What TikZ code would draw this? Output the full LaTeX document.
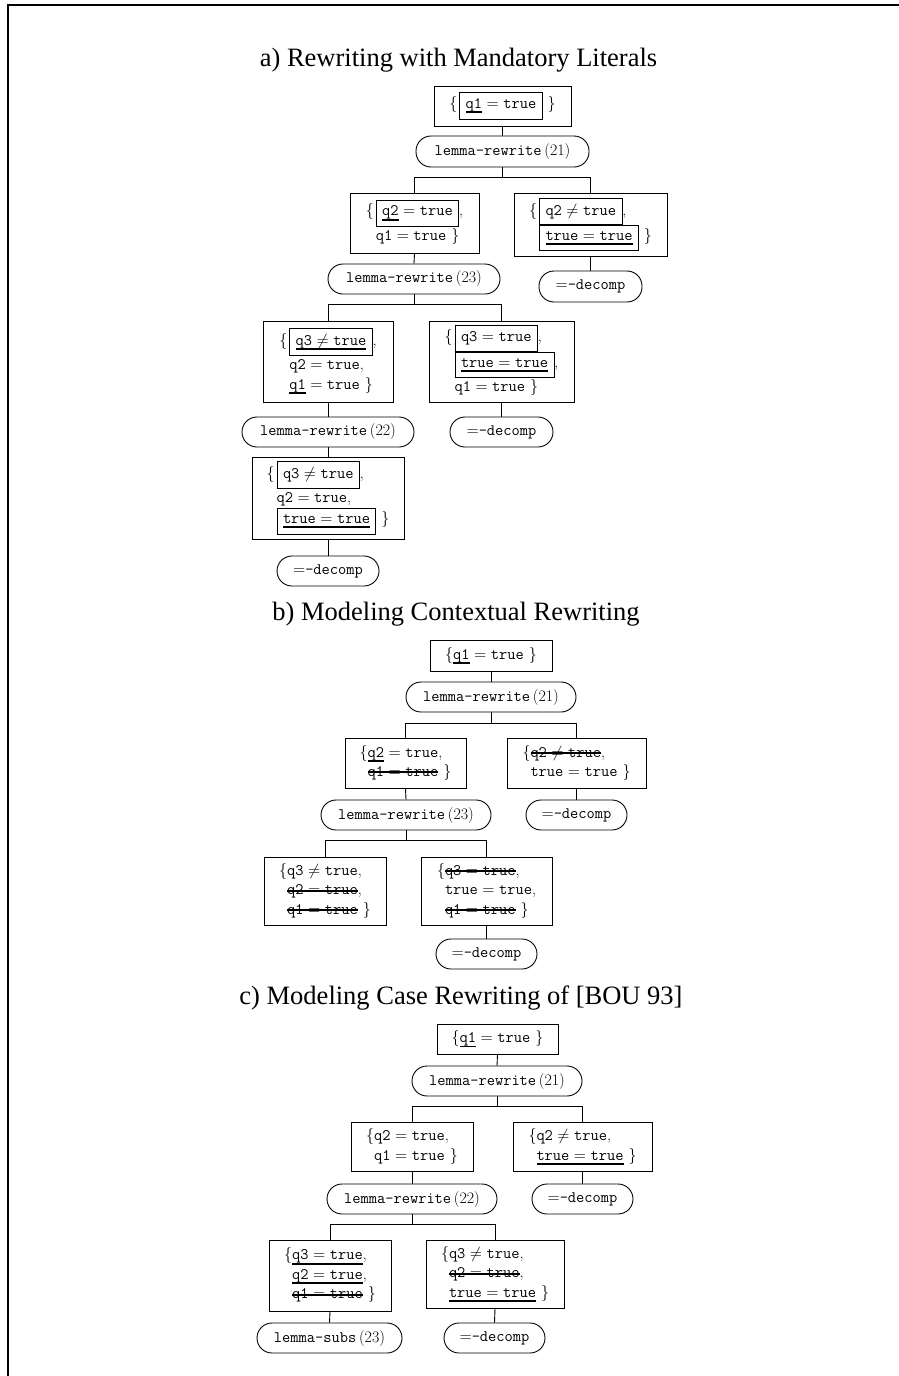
\RequirePackage{fix-cm}
\documentclass[tikz,border=0pt]{standalone}
\usepackage{fontspec}
\newfontfamily\titlefont{Liberation Serif}
\newsavebox\litbox
\newcommand{\Ul}[1]{\sbox\litbox{#1}\makebox[0pt][l]{\usebox\litbox}\rule[-4.6pt]{\wd\litbox}{1.8pt}}
\newcommand{\So}[1]{\sbox\litbox{#1}\makebox[0pt][l]{\usebox\litbox}\rule[3.4pt]{\wd\litbox}{1.8pt}}
\newcommand{\Bx}[1]{{\setlength\fboxsep{5.5pt}\setlength\fboxrule{0.9pt}\fbox{#1}}}
\newcommand{\Eq}[2]{\texttt{#1}${}={}$\texttt{#2}}
\newcommand{\Ne}[2]{\texttt{#1}${}\neq{}$\texttt{#2}}
\newcommand{\Lb}{$\{$}
\newcommand{\Rb}{\hspace{5pt}$\}$}
\newcommand{\Rule}[2]{\texttt{#1}\,\textrm{(#2)}}
\tikzset{
  lit/.style={draw, line width=0.9pt, inner sep=0pt, font=\fontsize{16}{19.5}\selectfont},
  rulebox/.style={draw, line width=0.9pt, rounded corners=15pt, inner sep=0pt, minimum height=30pt, font=\fontsize{16}{19.5}\selectfont},
  conn/.style={line width=0.9pt},
  ttl/.style={font=\titlefont\fontsize{26.5}{30}\selectfont, anchor=base, inner sep=0pt}
}
\begin{document}
\begin{tikzpicture}[x=1pt,y=-1pt]
\useasboundingbox (0,0) rectangle (898,1376);
\draw[line width=2.3pt] (7.8,1380) -- (7.8,5.3) -- (900,5.3);

% ---------------- a)
\node[ttl] (ta) at (458.5,66) {a) Rewriting with Mandatory Literals};
\node[lit, minimum width=137pt, minimum height=40pt] (A1) at (502.5,106)
  {\Lb\hspace{2pt}\Bx{\Eq{\Ul{q1}}{true}}\Rb};
\node[rulebox, minimum width=173pt, minimum height=31pt] (LA1) at (502.5,151.5) {\Rule{lemma-rewrite}{21}};
\coordinate (ba1) at (502.5,177);
\node[lit, minimum width=129pt, minimum height=60pt] (A2) at (414.5,223)
  {\Lb\hspace{2pt}\begin{tabular}[t]{@{}l@{}}\Bx{\Eq{\Ul{q2}}{true}},\\ \Eq{q1}{true}\Rb\end{tabular}};
\node[lit, minimum width=153pt, minimum height=63pt] (A3) at (590.5,224.5)
  {\Lb\hspace{2pt}\begin{tabular}[t]{@{}l@{}}\Bx{\Ne{q2}{true}},\\ \Bx{\Ul{\Eq{true}{true}}}\Rb\end{tabular}};
\node[rulebox, minimum width=103pt, minimum height=31pt] (DA3) at (590.5,286.5) {$=$\texttt{-decomp}};
\node[rulebox, minimum width=172pt] (LA2) at (414,279) {\Rule{lemma-rewrite}{23}};
\coordinate (ba2) at (414,304);
\node[lit, minimum width=130pt, minimum height=81pt] (A4) at (328,361.5)
  {\Lb\hspace{2pt}\begin{tabular}[t]{@{}l@{}}\Bx{\Ul{\Ne{q3}{true}}},\\ \Eq{q2}{true},\\ \Eq{\Ul{q1}}{true}\Rb\end{tabular}};
\node[lit, minimum width=145pt, minimum height=81pt] (A5) at (501.5,361.5)
  {\Lb\hspace{2pt}\begin{tabular}[t]{@{}l@{}}\Bx{\Eq{q3}{true}},\\ \Bx{\Ul{\Eq{true}{true}}},\\ \Eq{q1}{true}\Rb\end{tabular}};
\node[rulebox, minimum width=172pt] (LA3) at (328,432) {\Rule{lemma-rewrite}{22}};
\node[rulebox, minimum width=103pt] (DA5) at (501.5,432) {$=$\texttt{-decomp}};
\node[lit, minimum width=152pt, minimum height=82pt] (A6) at (328,498)
  {\Lb\hspace{2pt}\begin{tabular}[t]{@{}l@{}}\Bx{\Ne{q3}{true}},\\ \Eq{q2}{true},\\ \Bx{\Ul{\Eq{true}{true}}}\Rb\end{tabular}};
\node[rulebox, minimum width=102pt] (DA6) at (328,571) {$=$\texttt{-decomp}};

\draw[conn] (A1.south) -- (LA1.north);
\draw[conn] (LA1.south) -- (ba1) -| (A2.north);
\draw[conn] (ba1) -| (A3.north);
\draw[conn] (A3.south) -- (DA3.north);
\draw[conn] (A2.south) -- (LA2.north);
\draw[conn] (LA2.south) -- (ba2) -| (A4.north);
\draw[conn] (ba2) -| (A5.north);
\draw[conn] (A4.south) -- (LA3.north);
\draw[conn] (A5.south) -- (DA5.north);
\draw[conn] (LA3.south) -- (A6.north);
\draw[conn] (A6.south) -- (DA6.north);

% ---------------- b)
\node[ttl] (tb) at (456,620) {b) Modeling Contextual Rewriting};
\node[lit, minimum width=122pt, minimum height=31pt] (B1) at (491,655.5)
  {\Lb\Eq{\Ul{q1}}{true}\Rb};
\node[rulebox, minimum width=170pt] (LB1) at (491,697) {\Rule{lemma-rewrite}{21}};
\coordinate (bb1) at (491,723);
\node[lit, minimum width=121pt, minimum height=50pt] (B2) at (405.5,763)
  {\Lb\begin{tabular}[t]{@{}l@{}}\Eq{\Ul{q2}}{true},\\ \So{\Eq{q1}{true}}\Rb\end{tabular}};
\node[lit, minimum width=139pt, minimum height=50pt] (B3) at (576.5,763)
  {\Lb\begin{tabular}[t]{@{}l@{}}\So{\Ne{q2}{true}},\\ \Eq{true}{true}\Rb\end{tabular}};
\node[rulebox, minimum width=101pt] (DB3) at (576.5,815) {$=$\texttt{-decomp}};
\node[rulebox, minimum width=170pt] (LB2) at (406,815) {\Rule{lemma-rewrite}{23}};
\coordinate (bb2) at (406,840);
\node[lit, minimum width=122pt, minimum height=68pt] (B4) at (325,891)
  {\Lb\begin{tabular}[t]{@{}l@{}}\Ne{q3}{true},\\ \So{\Eq{q2}{true}},\\ \So{\Eq{q1}{true}}\Rb\end{tabular}};
\node[lit, minimum width=131pt, minimum height=68pt] (B5) at (486.5,891)
  {\Lb\begin{tabular}[t]{@{}l@{}}\So{\Eq{q3}{true}},\\ \Eq{true}{true},\\ \So{\Eq{q1}{true}}\Rb\end{tabular}};
\node[rulebox, minimum width=101pt] (DB5) at (486.5,954) {$=$\texttt{-decomp}};

\draw[conn] (B1.south) -- (LB1.north);
\draw[conn] (LB1.south) -- (bb1) -| (B2.north);
\draw[conn] (bb1) -| (B3.north);
\draw[conn] (B3.south) -- (DB3.north);
\draw[conn] (B2.south) -- (LB2.north);
\draw[conn] (LB2.south) -- (bb2) -| (B4.north);
\draw[conn] (bb2) -| (B5.north);
\draw[conn] (B5.south) -- (DB5.north);

% ---------------- c)
\node[ttl] (tc) at (461,1004) {c) Modeling Case Rewriting of [BOU 93]};
\node[lit, minimum width=121pt, minimum height=30pt] (C1) at (497.5,1039)
  {\Lb\Eq{\Ul{q1}}{true}\Rb};
\node[rulebox, minimum width=170pt] (LC1) at (497,1081) {\Rule{lemma-rewrite}{21}};
\coordinate (bc1) at (497,1106);
\node[lit, minimum width=122pt, minimum height=49pt] (C2) at (412,1146.5)
  {\Lb\begin{tabular}[t]{@{}l@{}}\Eq{q2}{true},\\ \Eq{q1}{true}\Rb\end{tabular}};
\node[lit, minimum width=139pt, minimum height=49pt] (C3) at (582.5,1146.5)
  {\Lb\begin{tabular}[t]{@{}l@{}}\Ne{q2}{true},\\ \Ul{\Eq{true}{true}}\Rb\end{tabular}};
\node[rulebox, minimum width=101pt] (DC3) at (582.5,1199) {$=$\texttt{-decomp}};
\node[rulebox, minimum width=170pt] (LC2) at (412,1199) {\Rule{lemma-rewrite}{22}};
\coordinate (bc2) at (412,1224);
\node[lit, minimum width=122pt, minimum height=71pt] (C4) at (330,1275.5)
  {\Lb\begin{tabular}[t]{@{}l@{}}\Ul{\Eq{q3}{true}},\\ \Ul{\Eq{q2}{true}},\\ \So{\Eq{q1}{true}}\Rb\end{tabular}};
\node[lit, minimum width=138pt, minimum height=68pt] (C5) at (495,1274)
  {\Lb\begin{tabular}[t]{@{}l@{}}\Ne{q3}{true},\\ \So{\Eq{q2}{true}},\\ \Ul{\Eq{true}{true}}\Rb\end{tabular}};
\node[rulebox, minimum width=145pt] (LC4) at (329.5,1338) {\Rule{lemma-subs}{23}};
\node[rulebox, minimum width=101pt] (DC5) at (494.5,1338) {$=$\texttt{-decomp}};

\draw[conn] (C1.south) -- (LC1.north);
\draw[conn] (LC1.south) -- (bc1) -| (C2.north);
\draw[conn] (bc1) -| (C3.north);
\draw[conn] (C3.south) -- (DC3.north);
\draw[conn] (C2.south) -- (LC2.north);
\draw[conn] (LC2.south) -- (bc2) -| (C4.north);
\draw[conn] (bc2) -| (C5.north);
\draw[conn] (C4.south) -- (LC4.north);
\draw[conn] (C5.south) -- (DC5.north);
\end{tikzpicture}
\end{document}
